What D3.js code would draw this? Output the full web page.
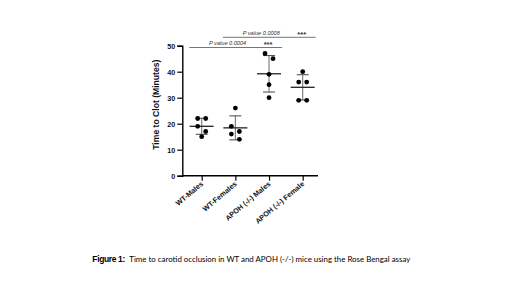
<!DOCTYPE html>
<html><head><meta charset="utf-8">
<script src="https://cdn.jsdelivr.net/npm/d3@7"></script>
<style>html,body{margin:0;padding:0;background:#fff;}svg{display:block;}</style>
</head><body>
<script>
const categories = ["WT-Males", "WT-Females", "APOH (-/-) Males", "APOH (-/-) Female"];
const wtMales = [22, 22, 19, 17, 15];
const wtFemales = [26, 19, 17, 16, 14];
const apohMales = [47, 45, 39, 35, 30];
const apohFemales = [40, 36, 36, 29, 29];
const seriesValues = [wtMales, wtFemales, apohMales, apohFemales];
const yTicks = [0, 10, 20, 30, 40, 50];
const comparisons = [
  {from: 0, to: 2, label: "P value 0.0004", stars: "***"},
  {from: 1, to: 3, label: "P value 0.0008", stars: "***"}
];
const yLabel = "Time to Clot (Minutes)";
const captionBold = "Figure 1:";
const captionText = "Time to carotid occlusion in WT and APOH (-/-) mice using the Rose Bengal assay";

const W = 520, H = 292;
const svg = d3.select("body").append("svg").attr("width", W).attr("height", H);

const x = d3.scalePoint().domain(categories).range([201.7, 302.7]);
const y = d3.scaleLinear().domain([0, 50]).range([175.7, 45.7]);

// y axis
const yAx = svg.append("g").attr("transform", "translate(182.3,0)")
  .call(d3.axisLeft(y).tickValues(yTicks).tickSize(5).tickPadding(2));
yAx.select(".domain").attr("stroke", "#000").attr("stroke-width", 1.4);
yAx.selectAll(".tick line").attr("stroke", "#000").attr("stroke-width", 1.2);
yAx.selectAll(".tick text").attr("font-family", "Liberation Sans, Arial, sans-serif")
  .attr("font-weight", "bold").attr("font-size", 7.2).attr("fill", "#111");

// x axis
const xAx = svg.append("g").attr("transform", `translate(0,${y(0)})`)
  .call(d3.axisBottom(x).tickSize(5).tickSizeOuter(0).tickFormat(""));
xAx.select(".domain").attr("d", `M182.3,0H318`).attr("stroke", "#000").attr("stroke-width", 1.4);
xAx.selectAll(".tick line").attr("stroke", "#000").attr("stroke-width", 1.2);

// x labels rotated
svg.append("g").selectAll("text").data(categories).join("text")
  .attr("transform", d => `translate(${x(d) + 2},${y(0) + 9}) rotate(-40)`)
  .attr("text-anchor", "end")
  .attr("font-family", "Liberation Sans, Arial, sans-serif")
  .attr("font-weight", "bold").attr("font-size", 7.2).attr("fill", "#111")
  .text(d => d);

// y label
svg.append("text")
  .attr("transform", `translate(158.5,${(y(0) + y(50)) / 2 - 6}) rotate(-90)`)
  .attr("text-anchor", "middle")
  .attr("font-family", "Liberation Sans, Arial, sans-serif")
  .attr("font-weight", "bold").attr("font-size", 8.6).attr("fill", "#111")
  .text(yLabel);

// beeswarm-ish offsets
const r = 2.4;
function swarm(vals) {
  const ys = vals.map(v => y(v));
  const order = d3.range(vals.length).sort((a, b) => ys[a] - ys[b]);
  const off = new Array(vals.length).fill(0);
  let i = 0;
  while (i < order.length) {
    let j = i;
    while (j + 1 < order.length && Math.abs(ys[order[j + 1]] - ys[order[i]]) < 2 * r + 0.5) j++;
    const n = j - i + 1;
    for (let k = 0; k < n; k++) off[order[i + k]] = (k - (n - 1) / 2) * 8;
    i = j + 1;
  }
  return off;
}

const g = svg.append("g");
categories.forEach((c, ci) => {
  const vals = seriesValues[ci];
  const mean = d3.mean(vals), sd = d3.deviation(vals);
  const cx = x(c);
  g.append("line").attr("x1", cx).attr("x2", cx).attr("y1", y(mean + sd)).attr("y2", y(mean - sd))
    .attr("stroke", "#777").attr("stroke-width", 1.1);
  [mean + sd, mean - sd].forEach(v => g.append("line")
    .attr("x1", cx - 6).attr("x2", cx + 6).attr("y1", y(v)).attr("y2", y(v))
    .attr("stroke", "#555").attr("stroke-width", 1.1));
  g.append("line").attr("x1", cx - 12).attr("x2", cx + 12).attr("y1", y(mean)).attr("y2", y(mean))
    .attr("stroke", "#222").attr("stroke-width", 1.3);
  const off = swarm(vals);
  g.selectAll(null).data(vals).join("circle")
    .attr("cx", (d, i) => cx + off[i]).attr("cy", d => y(d)).attr("r", r).attr("fill", "#000");
});

// comparison brackets
const bracketY = [47.5, 37.3];
comparisons.forEach((cmp, i) => {
  const x1 = x(categories[cmp.from]) - 12.5, x2 = x(categories[cmp.to]) + 13;
  const by = bracketY[i];
  svg.append("line").attr("x1", x1).attr("x2", x2).attr("y1", by).attr("y2", by)
    .attr("stroke", "#666").attr("stroke-width", 0.9);
  svg.append("text").attr("x", (x1 + x2) / 2 - 8).attr("y", by - 2.5)
    .attr("text-anchor", "middle").attr("font-family", "Liberation Sans, Arial, sans-serif")
    .attr("font-style", "italic").attr("font-size", 5.6).attr("fill", "#333").text(cmp.label);
  svg.append("text").attr("x", x2 - 14).attr("y", by - 0.8)
    .attr("text-anchor", "middle").attr("font-family", "Liberation Sans, Arial, sans-serif")
    .attr("font-weight", "bold").attr("font-size", 7.5).attr("fill", "#333").text(cmp.stars);
});

// caption
svg.append("text").attr("x", 92.3).attr("y", 262)
  .attr("font-family", "Liberation Sans, Arial, sans-serif").attr("font-weight", "bold")
  .attr("font-size", 8.5).attr("fill", "#000").attr("textLength", 33).text(captionBold);
svg.append("text").attr("x", 129.3).attr("y", 262)
  .attr("font-family", "Lato, 'Open Sans', sans-serif")
  .attr("font-size", 8.4).attr("fill", "#000").attr("textLength", 281).attr("lengthAdjust", "spacingAndGlyphs")
  .text(captionText);
</script>
</body></html>
